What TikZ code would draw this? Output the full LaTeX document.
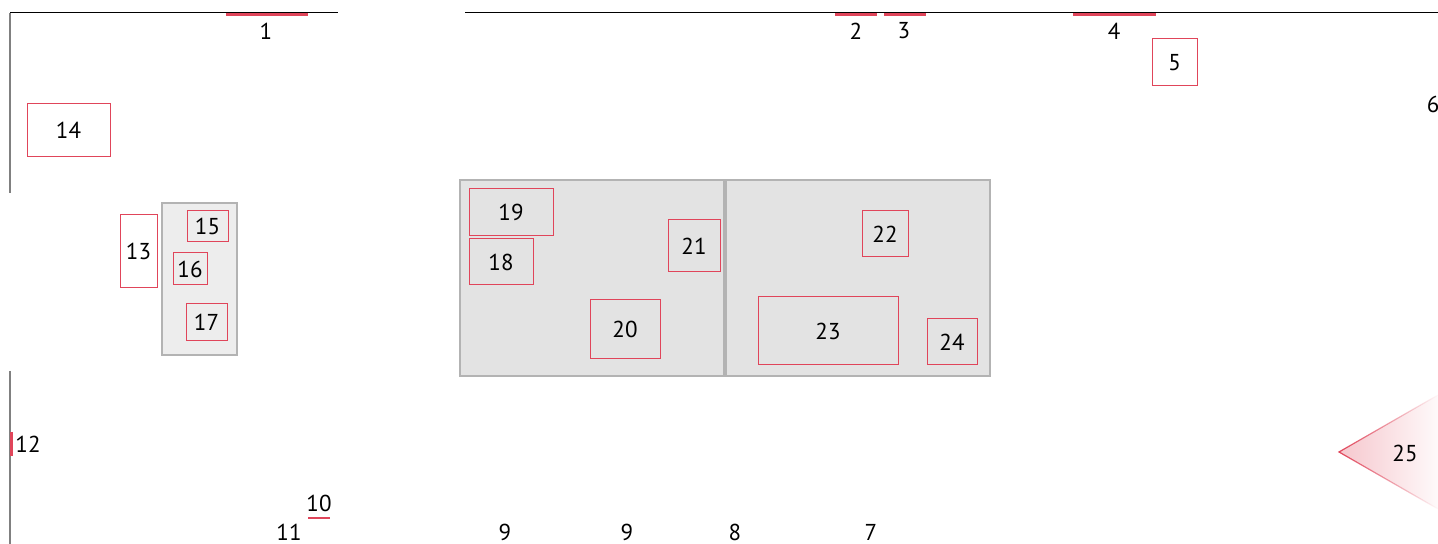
\documentclass[tikz,border=0pt]{standalone}
\usepackage{fontspec}
\setmainfont{PT Sans}
\usetikzlibrary{fit,fadings}
\definecolor{boxred}{HTML}{E0455A}
\definecolor{contfill}{HTML}{E3E3E3}
\definecolor{contfillb}{HTML}{EDEDED}
\definecolor{contline}{HTML}{B3B3B3}
\begin{document}
\begin{tikzpicture}[x=0.5pt,y=-0.5pt, font=\fontsize{11.5}{13}\selectfont,
  redbox/.style={draw=boxred, line width=0.5pt, inner sep=0pt},
  whitebox/.style={redbox, fill=white},
  container/.style={draw=contline, fill=contfill, line width=0.6pt, inner sep=0pt},
  containerb/.style={container, fill=contfillb},
  redmark/.style={draw=boxred, line width=1.5pt},
  ruleline/.style={draw=black, line width=0.5pt},
  sideline/.style={draw=gray, line width=0.6pt},
  lbl/.style={inner sep=0pt, text=black}]
\useasboundingbox (0,0) rectangle (1438,544);

% frame lines
\coordinate (tlA) at (10,13);
\coordinate (tlB) at (338,13);
\coordinate (tlC) at (10,193);
\coordinate (trA) at (465,13);
\coordinate (trB) at (1438,13);
\coordinate (blA) at (10,371);
\coordinate (blB) at (10,544);
\draw[ruleline] (tlA) -- (tlB);
\draw[sideline] (tlA) -- (tlC);
\draw[ruleline] (trA) -- (trB);
\draw[sideline] (blA) -- (blB);

% red marks on top line
\coordinate (m1a) at (226,15); \coordinate (m1b) at (308,15);
\coordinate (m2a) at (835,15); \coordinate (m2b) at (877,15);
\coordinate (m3a) at (884,15); \coordinate (m3b) at (926,15);
\coordinate (m4a) at (1073,15); \coordinate (m4b) at (1156,15);
\draw[redmark] (m1a) -- (m1b);
\draw[redmark] (m2a) -- (m2b);
\draw[redmark] (m3a) -- (m3b);
\draw[redmark] (m4a) -- (m4b);
\node[lbl] (l1) at (266,31) {1};
\node[lbl] (l2) at (856,31) {2};
\node[lbl] (l3) at (904,31) {3};
\node[lbl] (l4) at (1114,31) {4};

% side mark 12
\coordinate (m12a) at (11.5,432); \coordinate (m12b) at (11.5,456);
\draw[boxred, line width=1.2pt] (m12a) -- (m12b);
\node[lbl] (l12) at (28,444) {12};

% 10 with underline
\node[lbl] (l10) at (319,503) {10};
\coordinate (m10a) at (308,518); \coordinate (m10b) at (330,518);
\draw[boxred, line width=1.1pt] (m10a) -- (m10b);

% bottom labels
\node[lbl] (l11) at (289,532) {11};
\node[lbl] (l9a) at (505,532) {9};
\node[lbl] (l9b) at (627,532) {9};
\node[lbl] (l8) at (735,532) {8};
\node[lbl] (l7) at (871,532) {7};
\node[lbl] (l6) at (1433,104) {6};

% free boxes
\node[whitebox, fit={(1152,39) (1197,86)}] (n5) {};
\node[whitebox, fit={(27,104) (110,157)}] (n14) {};
\node[whitebox, fit={(120,215) (157,288)}] (n13) {};

% small container
\node[containerb, fit={(162,203) (237,355)}] (c1) {};
\node[redbox, fit={(187,211) (228,242)}] (n15) {};
\node[redbox, fit={(173,253) (207,285)}] (n16) {};
\node[redbox, fit={(186,304) (227,341)}] (n17) {};

% big containers
\node[container, fit={(460,180) (724,376)}] (c2) {};
\node[container, fit={(726,180) (990,376)}] (c3) {};
\node[redbox, fit={(469,189) (553,236)}] (n19) {};
\node[redbox, fit={(469,239) (533,285)}] (n18) {};
\node[redbox, fit={(668,220) (720,272)}] (n21) {};
\node[redbox, fit={(590,300) (660,359)}] (n20) {};
\node[redbox, fit={(862,211) (908,257)}] (n22) {};
\node[redbox, fit={(758,297) (898,365)}] (n23) {};
\node[redbox, fit={(927,319) (977,365)}] (n24) {};

% box labels
\node[lbl] (t5) at (n5.center) {5};
\node[lbl] (t14) at (n14.center) {14};
\node[lbl] (t13) at (n13.center) {13};
\node[lbl] (t15) at (n15.center) {15};
\node[lbl] (t16) at (n16.center) {16};
\node[lbl] (t17) at (n17.center) {17};
\node[lbl] (t19) at (n19.center) {19};
\node[lbl] (t18) at (n18.center) {18};
\node[lbl] (t21) at (n21.center) {21};
\node[lbl] (t20) at (n20.center) {20};
\node[lbl] (t22) at (n22.center) {22};
\node[lbl] (t23) at (n23.center) {23};
\node[lbl] (t24) at (n24.center) {24};

% triangle 25
\coordinate (tA) at (1339,452);
\coordinate (tB) at (1438,395);
\coordinate (tC) at (1438,509);
\shade[left color=boxred!30, right color=boxred!3] (tA) -- (tB) -- (tC) -- cycle;
\draw[boxred, line width=0.6pt, path fading=east] (tB) -- (tA) -- (tC);
\node[lbl] (l25) at (1405,453) {25};
\end{tikzpicture}
\end{document}
